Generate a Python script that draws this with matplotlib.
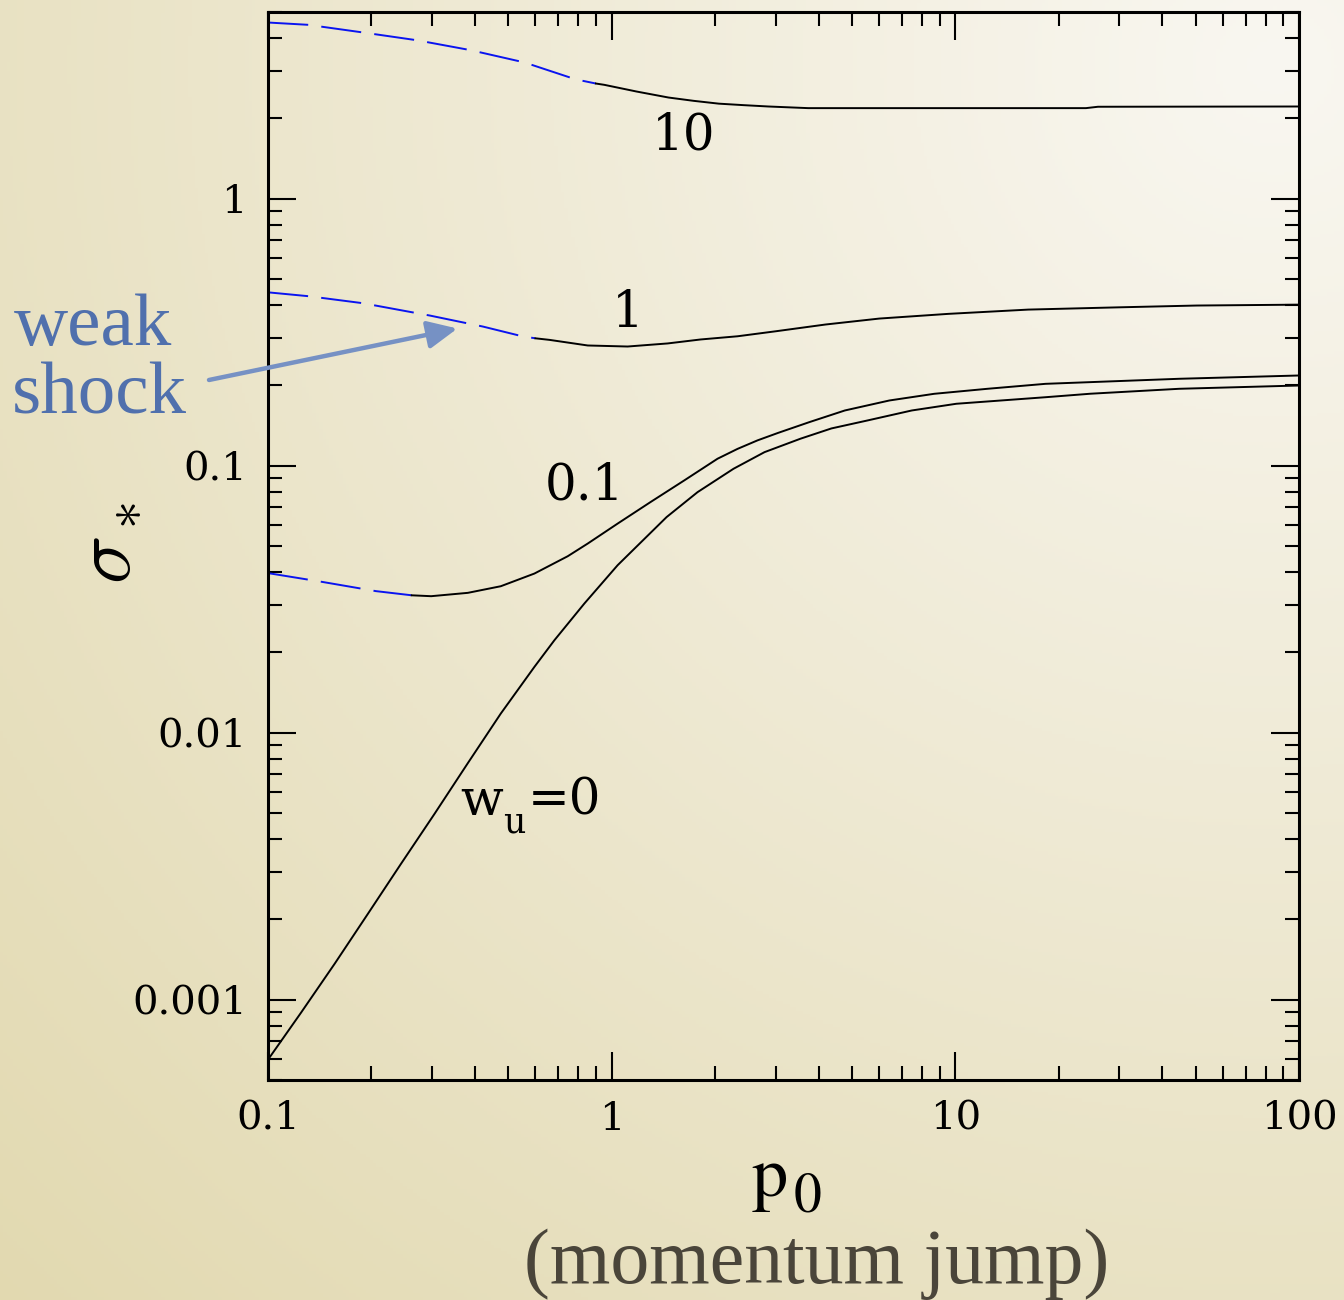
import numpy as np
import matplotlib
matplotlib.use("Agg")
import matplotlib.pyplot as plt
from matplotlib.ticker import FixedLocator, FixedFormatter, LogLocator, NullFormatter

plt.rcParams['font.family'] = ['DejaVu Serif']
plt.rcParams['mathtext.fontset'] = 'dejavuserif'
plt.rcParams['lines.scale_dashes'] = False

# sigma_* against p_0 for each upstream w_u; the "weak" arrays are the weak-shock branch
p_w10_weak = [0.1, 0.131, 0.19, 0.272, 0.389, 0.557, 0.785, 0.90]
s_w10_weak = [4.57, 4.48, 4.19, 3.92, 3.60, 3.24, 2.80, 2.70]
p_w10 = [0.90, 0.952, 1.182, 1.464, 1.731, 2.05, 2.419, 2.86, 3.73, 10.0, 24.0, 26.0, 100.0]
s_w10 = [2.70, 2.67, 2.52, 2.393, 2.326, 2.27, 2.241, 2.215, 2.184, 2.184, 2.184, 2.21, 2.215]

p_w1_weak = [0.1, 0.132, 0.189, 0.296, 0.422, 0.551, 0.60]
s_w1_weak = [0.446, 0.431, 0.406, 0.365, 0.332, 0.305, 0.300]
p_w1 = [0.60, 0.659, 0.852, 1.113, 1.455, 1.814, 2.324, 3.01, 4.19, 6.01, 9.54, 16.3,
        30.2, 50.4, 100.0]
s_w1 = [0.300, 0.296, 0.282, 0.2795, 0.287, 0.297, 0.3053, 0.3189, 0.3379, 0.3557, 0.3704,
        0.3843, 0.392, 0.398, 0.401]

p_w01_weak = [0.1, 0.1445, 0.206, 0.262]
s_w01_weak = [0.0396, 0.03667, 0.0339, 0.0327]
p_w01 = [0.262, 0.2984, 0.3815, 0.4757, 0.596, 0.745, 0.852, 1.041, 1.298, 1.627, 2.033,
         2.324, 2.657, 3.05, 3.76, 4.77, 6.43, 8.68, 12.4, 18.3, 44.8, 100.0]
s_w01 = [0.0327, 0.03245, 0.0334, 0.03536, 0.03945, 0.0458, 0.0511, 0.0607, 0.0731, 0.0881,
         0.1062, 0.1156, 0.1244, 0.1327, 0.1456, 0.161, 0.1755, 0.1859, 0.1941, 0.2026,
         0.2116, 0.2177]

p_w0 = [0.1, 0.1247, 0.1563, 0.1953, 0.2435, 0.305, 0.3815, 0.4757, 0.596, 0.6815, 0.833,
        1.041, 1.445, 1.778, 2.263, 2.785, 3.543, 4.36, 5.55, 7.47, 10.07, 18.3, 24.7,
        44.8, 100.0]
s_w0 = [5.96e-4, 8.93e-4, 1.363e-3, 2.097e-3, 3.22e-3, 4.96e-3, 7.69e-3, 0.01179, 0.01764,
        0.0222, 0.03047, 0.0424, 0.0642, 0.0796, 0.0974, 0.1124, 0.1262, 0.1379, 0.1477,
        0.161, 0.1706, 0.1805, 0.186, 0.1941, 0.1997]

xticks = [0.1, 1, 10, 100]
xticklabels = ['0.1', '1', '10', '100']
yticks = [0.001, 0.01, 0.1, 1]
yticklabels = ['0.001', '0.01', '0.1', '1']

fig = plt.figure(figsize=(13.44, 13.0), dpi=100)

# parchment-like background, lighter towards the upper right
bg = fig.add_axes([0, 0, 1, 1], zorder=-10)
gx, gy = np.meshgrid(np.linspace(0, 1, 400), np.linspace(1, 0, 400))
d = np.clip(np.hypot(gx - 0.95, gy - 0.95) / 1.35, 0, 1)[..., None]
light = np.array([249, 247, 241]) / 255.0
dark = np.array([226, 217, 176]) / 255.0
bg.imshow(light * (1 - d) + dark * d, aspect='auto', extent=[0, 1, 0, 1])
bg.axis('off')

ax = fig.add_axes([0.1994, 0.1692, 0.7671, 0.8215])
ax.set_facecolor('none')
ax.set_xscale('log')
ax.set_yscale('log')
ax.set_xlim(0.1, 100)
ax.set_ylim(5e-4, 5)

dash = (0, (29, 9.5))
blue = '#0a14f0'
lw = 1.4
for pw, sw, ps, ss in [(p_w10_weak, s_w10_weak, p_w10, s_w10),
                       (p_w1_weak, s_w1_weak, p_w1, s_w1),
                       (p_w01_weak, s_w01_weak, p_w01, s_w01)]:
    ax.plot(pw, sw, color=blue, lw=lw, linestyle=dash)
    ax.plot(ps, ss, color='black', lw=lw)
ax.plot(p_w0, s_w0, color='black', lw=lw)

# curve labels
ax.text(1.62, 1.72, '10', fontsize=36, ha='center', va='center')
ax.text(1.113, 0.371, '1', fontsize=36, ha='center', va='center')
ax.text(0.835, 0.0844, '0.1', fontsize=36, ha='center', va='center')
# w_u=0, with the subscript set well below the baseline
wpos = (0.3614, 0.00492)
ax.annotate('w', wpos, fontsize=36, ha='left', va='baseline')
ax.annotate('u', wpos, xytext=(43, -18), textcoords='offset pixels',
            fontsize=25, ha='left', va='baseline')
ax.annotate('=0', wpos, xytext=(68, 0), textcoords='offset pixels',
            fontsize=36, ha='left', va='baseline')

# ticks on all four sides, pointing in
ax.xaxis.set_major_locator(FixedLocator(xticks))
ax.xaxis.set_major_formatter(FixedFormatter(xticklabels))
ax.yaxis.set_major_locator(FixedLocator(yticks))
ax.yaxis.set_major_formatter(FixedFormatter(yticklabels))
for axis in (ax.xaxis, ax.yaxis):
    axis.set_minor_locator(LogLocator(base=10, subs=np.arange(2, 10), numticks=20))
    axis.set_minor_formatter(NullFormatter())
ax.tick_params(which='both', direction='in', top=True, right=True, color='black')
ax.tick_params(which='major', length=20, width=1.5, labelsize=29, pad=15)
ax.tick_params(which='minor', length=10, width=1.5)
for sp in ax.spines.values():
    sp.set_linewidth(2.2)

# axis titles
fig.text(106 / 1344, 1 - 543 / 1300, r'$\sigma_*$', fontsize=58, rotation=90,
         math_fontfamily='cm', ha='center', va='center')
fig.text(752 / 1344, 1 - 1196 / 1300, 'p', fontsize=52, family='STIXGeneral',
         ha='left', va='baseline')
fig.text(794 / 1344, 1 - 1211 / 1300, '0', fontsize=40, family='STIXGeneral',
         ha='left', va='baseline')
fig.text(817 / 1344, 0.0131, '(momentum jump)', fontsize=56, color='#4a453a',
         family='Liberation Serif', ha='center', va='baseline')

ax.annotate('', xy=(0.3557, 0.3264), xycoords='data',
            xytext=(0.1555, 0.7077), textcoords='figure fraction',
            arrowprops=dict(arrowstyle='-|>,head_length=0.6,head_width=0.28',
                            mutation_scale=30, lw=3.2, color='#7691c4',
                            shrinkA=0, shrinkB=0))
fig.text(14 / 1344, 1 - 345 / 1300, 'weak', fontsize=54, color='#5070ad',
         family='Liberation Serif', ha='left', va='baseline')
fig.text(12 / 1344, 1 - 413 / 1300, 'shock', fontsize=54, color='#5070ad',
         family='Liberation Serif', ha='left', va='baseline')

fig.savefig('out.png', dpi=100)
